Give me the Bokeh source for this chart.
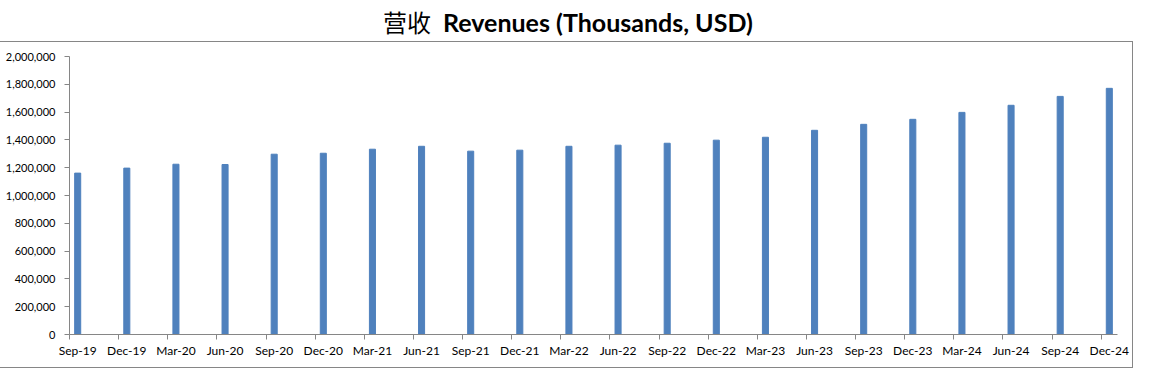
from bokeh.plotting import figure
from bokeh.models import FixedTicker, NumeralTickFormatter, Range1d, InlineStyleSheet, Div
from bokeh.layouts import column
from bokeh.embed import file_html
from bokeh.resources import INLINE

quarters = ["Sep-19", "Dec-19", "Mar-20", "Jun-20", "Sep-20", "Dec-20",
            "Mar-21", "Jun-21", "Sep-21", "Dec-21", "Mar-22", "Jun-22",
            "Sep-22", "Dec-22", "Mar-23", "Jun-23", "Sep-23", "Dec-23",
            "Mar-24", "Jun-24", "Sep-24", "Dec-24"]
revenues = [1161000, 1197000, 1225000, 1223000, 1297000, 1304000,
            1333000, 1354000, 1319000, 1326000, 1354000, 1362000,
            1376000, 1398000, 1419000, 1469000, 1512000, 1548000,
            1598000, 1649000, 1713000, 1771000]
y_ticks = [0, 200000, 400000, 600000, 800000, 1000000,
           1200000, 1400000, 1600000, 1800000, 2000000]
title_cjk = "营收"
title_latin = "Revenues (Thousands, USD)"

# date axis in months since Sep-19 (3 months per quarter)
month_start = [3 * i for i in range(len(quarters))]
bar_x = [m + 0.5 for m in month_start]
n_months = month_start[-1] + 1

W = 1151
TITLE_H = 41
FIG_H = 371 - TITLE_H

title_html = (
    '<div style="white-space:nowrap; padding:7px 0 0 383px; line-height:30px; color:black;">'
    f'<span style="font-family:\'Noto Sans CJK SC\'; font-size:24px; font-weight:normal;">{title_cjk}</span>'
    '<span style="display:inline-block; width:12px;"></span>'
    f'<span style="font-family:Lato; font-size:25px; font-weight:bold;">{title_latin}</span>'
    '</div>'
)
title_div = Div(text=title_html, width=W, height=TITLE_H, margin=(0, 0, 0, 0))

p = figure(width=W, height=FIG_H, output_backend="svg", toolbar_location=None,
           x_range=Range1d(0, n_months), y_range=Range1d(0, y_ticks[-1]),
           min_border_left=69, min_border_right=34, min_border_top=15,
           min_border_bottom=37, margin=(0, 0, 0, 0))

p.vbar(x=bar_x, top=revenues, width=0.37, color="#4F81BD")

p.outline_line_color = None
p.xgrid.grid_line_color = None
p.ygrid.grid_line_color = None
p.background_fill_color = "white"
p.border_fill_color = "white"

axis_col = "#868686"
xa = p.xaxis[0]
xa.ticker = FixedTicker(ticks=bar_x, minor_ticks=month_start)
xa.major_label_overrides = {x: q for x, q in zip(bar_x, quarters)}
xa.axis_line_color = axis_col
xa.major_tick_line_color = None
xa.major_tick_out = 0
xa.major_tick_in = 0
xa.minor_tick_line_color = axis_col
xa.minor_tick_out = 5
xa.minor_tick_in = 0
xa.major_label_standoff = 3
xa.major_label_text_font = "Lato"
xa.major_label_text_font_size = "12px"
xa.major_label_text_color = "black"

ya = p.yaxis[0]
ya.ticker = FixedTicker(ticks=y_ticks, minor_ticks=[])
ya.formatter = NumeralTickFormatter(format="0,0")
ya.axis_line_color = axis_col
ya.major_tick_line_color = axis_col
ya.major_tick_out = 5
ya.major_tick_in = 0
ya.minor_tick_line_color = None
ya.major_label_standoff = 9
ya.major_label_text_font = "Lato"
ya.major_label_text_font_size = "11px"
ya.major_label_text_color = "black"

# chart-area border (below the title, around the plot), drawn as a CSS overlay box
p.stylesheets = [InlineStyleSheet(css="""
:host { position: relative; }
:host::after {
  content: "";
  position: absolute;
  left: -5px; top: 0px; width: 1138px; height: 327px;
  box-sizing: border-box;
  border: 1px solid #868686;
  pointer-events: none;
}
""")]

layout = column(title_div, p, spacing=0)
open("out.html", "w").write(file_html(layout, INLINE))
